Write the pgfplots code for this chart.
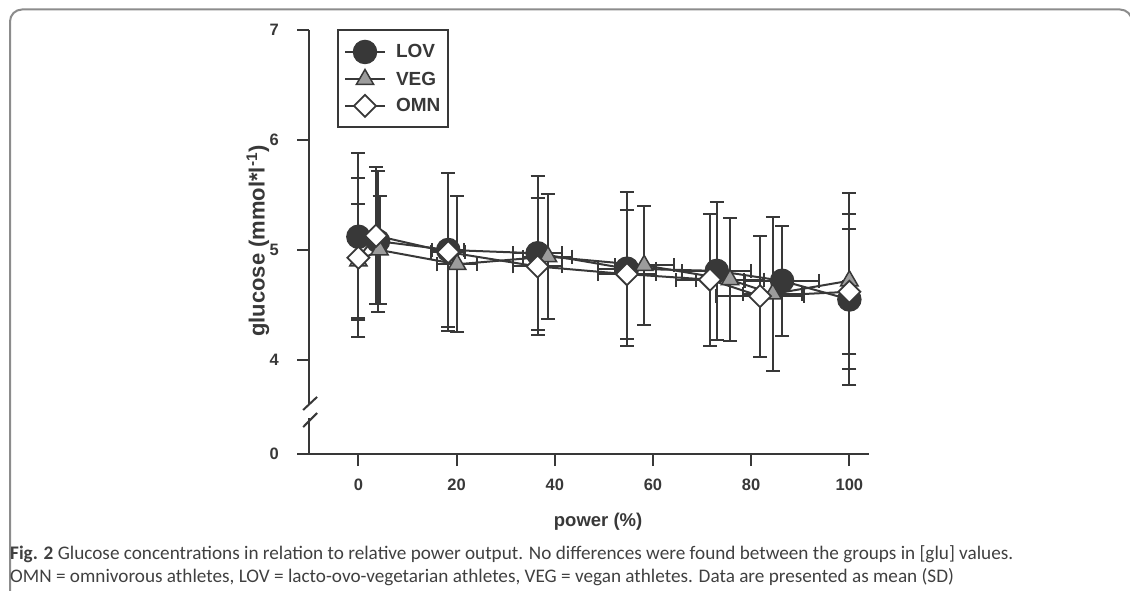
\documentclass[border=0pt]{standalone}
\usepackage{fontspec}
\setmainfont{Liberation Sans}
\newfontfamily\capfont{Carlito}
\usepackage{pgfplots}
\pgfplotsset{compat=1.18}
\usepackage{pgfplotstable}
\definecolor{ink}{HTML}{383838}
\definecolor{veg}{HTML}{9C9C9C}
\definecolor{framec}{HTML}{8C8C8C}
\definecolor{captext}{HTML}{404040}

\pgfplotstableread{
x    y    ex  ey
0    5.12 0   0.76
4    5.08 0   0.64
18.3 5.00 3.3 0.70
36.5 4.97 5   0.70
54.7 4.83 6   0.70
73.0 4.81 7   0.63
86.3 4.72 7.5 0.50
100  4.55 0   0.78
}\lov
\pgfplotstableread{
x    y    ex  ey
0    4.90 0   0.52
4.3  5.00 0   0.49
20.1 4.87 4   0.62
38.6 4.94 5   0.57
58.2 4.86 6   0.54
75.7 4.73 7   0.56
84.4 4.60 6   0.70
100  4.72 0   0.80
}\veg
\pgfplotstableread{
x    y    ex  ey
0    4.93 0   0.72
3.6  5.13 0   0.62
18.3 4.98 3.5 0.72
36.5 4.85 5   0.62
54.7 4.78 6   0.585
71.6 4.73 7   0.60
81.8 4.58 9   0.55
100  4.62 0   0.57
}\omn

\begin{document}
\begin{tikzpicture}[x=1pt,y=1pt]
\useasboundingbox (0,0) rectangle (1130,590);
\draw[framec, line width=2pt, rounded corners=12pt] (10,-20) -- (10,580.5) -- (1132,580.5) -- (1132,500);
\begin{axis}[
  at={(309.3pt,136pt)}, anchor=south west,
  scale only axis, width=559.7pt, height=424pt,
  xmin=-10, xmax=104, ymin=3.145, ymax=7,
  clip=false,
  axis lines=left,
  axis line style={-, ink, line width=2pt},
  tick align=outside, major tick length=12pt,
  tick style={ink, line width=2pt},
  xtick={0,20,40,60,80,100}, xticklabels={0,20,40,60,80,100},
  ytick={3.145,4,5,6,7}, yticklabels={0,4,5,6,7},
  ticklabel style={font=\fontsize{16.5}{18}\selectfont\bfseries, text=ink},
  xticklabel style={yshift=-9pt},
  yticklabel style={xshift=-15pt},
  xlabel={power (\%)},
  ylabel={glucose (mmol*l\textsuperscript{-1})},
  label style={font=\fontsize{18.5}{20}\selectfont\bfseries, text=ink},
  ylabel style={font=\fontsize{22}{24}\selectfont\bfseries},
  xlabel style={at={(axis description cs:0.516,-0.160)}, anchor=center},
  ylabel style={at={(axis description cs:-0.0917,0.502)}, anchor=center, rotate=0},
  legend style={at={(axis description cs:0.0495,1.0024)}, anchor=north west,
    draw=ink, line width=2pt, font=\fontsize{19}{19}\selectfont\bfseries,
    text=ink, inner xsep=6pt, inner ysep=10.5pt, row sep=6pt,
    /tikz/every odd column/.append style={column sep=8pt}},
  legend cell align=left,
  legend image code/.code={\draw[mark repeat=2,mark phase=2] plot coordinates {(0pt,0pt) (20pt,0pt) (40pt,0pt)};},
  error bars/error bar style={ink, line width=2pt},
  error bars/error mark options={rotate=90, ink, line width=2pt, mark size=7pt},
]
\addplot[ink, line width=2pt, mark=*, mark size=11.5pt, mark options={fill=ink, draw=ink, line width=1.5pt},
  error bars/.cd, x dir=both, x explicit, y dir=both, y explicit]
  table[x=x, y=y, x error=ex, y error=ey] {\lov};
\addlegendentry{LOV}
\addplot[ink, line width=2pt, mark=triangle*, mark size=10pt, mark options={fill=veg, draw=ink, line width=1.5pt},
  error bars/.cd, x dir=both, x explicit, y dir=both, y explicit]
  table[x=x, y=y, x error=ex, y error=ey] {\veg};
\addlegendentry{VEG}
\addplot[ink, line width=2pt, mark=square*, mark size=7.8pt, mark options={fill=white, draw=ink, line width=1.8pt, rotate=45},
  error bars/.cd, x dir=both, x explicit, y dir=both, y explicit]
  table[x=x, y=y, x error=ex, y error=ey] {\omn};
\addlegendentry{OMN}
\coordinate (gA) at (axis cs:-10.9,3.47);
\coordinate (gB) at (axis cs:-9.1,3.59);
\coordinate (s1a) at (axis cs:-11.26,3.545);
\coordinate (s1b) at (axis cs:-8.41,3.664);
\coordinate (s2a) at (axis cs:-11.26,3.39);
\coordinate (s2b) at (axis cs:-8.41,3.518);
\end{axis}
\fill[white] (gA) rectangle (gB);
\draw[ink, line width=2pt] (s1a) -- (s1b);
\draw[ink, line width=2pt] (s2a) -- (s2b);
\node[anchor=base west, inner sep=0pt, text=captext] at (10,31)
  {\capfont\fontsize{19.2}{19.2}\selectfont\textbf{Fig. 2} Glucose concentrations in relation to relative power output. No differences were found between the groups in [glu] values.};
\node[anchor=base west, inner sep=0pt, text=captext] at (10,8)
  {\capfont\fontsize{19.2}{19.2}\selectfont OMN = omnivorous athletes, LOV = lacto-ovo-vegetarian athletes, VEG = vegan athletes. Data are presented as mean (SD)};
\end{tikzpicture}
\end{document}
